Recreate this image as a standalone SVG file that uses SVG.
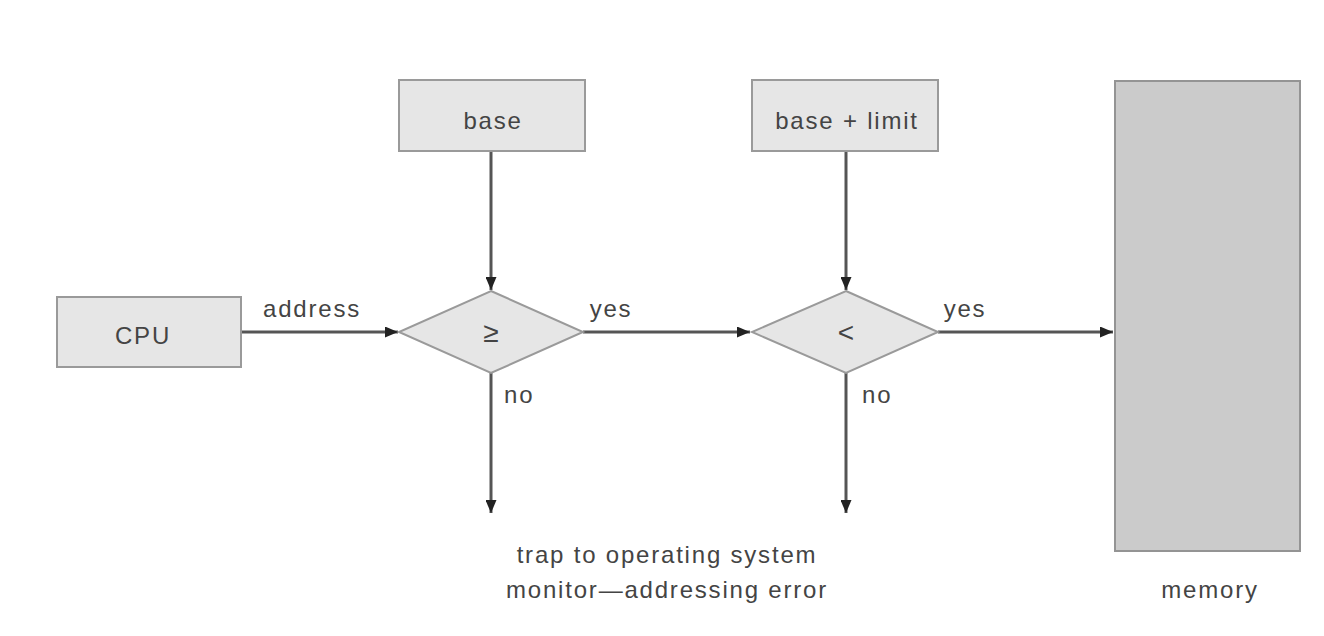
<svg xmlns="http://www.w3.org/2000/svg" width="1324" height="636" viewBox="0 0 1324 636">
  <style>
    .box { fill: #e6e6e6; stroke: #9a9a9a; stroke-width: 2; }
    .mem { fill: #cbcbcb; stroke: #949494; stroke-width: 2; }
    .dia { fill: #e6e6e6; stroke: #9a9a9a; stroke-width: 2; }
    .wire { stroke: #555; stroke-width: 3; fill: none; marker-end: url(#head); }
    text { font-family: "Liberation Sans", Arial, sans-serif; font-size: 24px; letter-spacing: 1.8px; fill: #444; }
    .c { text-anchor: middle; }
    .op { font-size: 28px; letter-spacing: 0; }
  </style>
  <defs>
    <marker id="head" viewBox="0 0 13 11" refX="13" refY="5.5" markerWidth="13" markerHeight="11" markerUnits="userSpaceOnUse" orient="auto">
      <path d="M0,0 L13,5.5 L0,11 Z" fill="#222"/>
    </marker>
  </defs>
  <rect width="1324" height="636" fill="#fff"/>

  <g id="connectors">
    <line class="wire" x1="241" y1="332" x2="398" y2="332"/>
    <line class="wire" x1="583" y1="332" x2="750" y2="332"/>
    <line class="wire" x1="938" y1="332" x2="1113" y2="332"/>
    <line class="wire" x1="491" y1="151" x2="491" y2="290"/>
    <line class="wire" x1="846" y1="151" x2="846" y2="290"/>
    <line class="wire" x1="491" y1="373" x2="491" y2="513"/>
    <line class="wire" x1="846" y1="373" x2="846" y2="513"/>
    <text x="312" y="317" class="c">address</text>
    <text x="611" y="317" class="c">yes</text>
    <text x="965" y="317" class="c">yes</text>
    <text x="504" y="403">no</text>
    <text x="862" y="403">no</text>
  </g>

  <g id="cpu">
    <rect class="box" x="57" y="297" width="184" height="70"/>
    <text x="143" y="344" class="c">CPU</text>
  </g>

  <g id="base">
    <rect class="box" x="399" y="80" width="186" height="71"/>
    <text x="493" y="129" class="c">base</text>
  </g>

  <g id="base-limit">
    <rect class="box" x="752" y="80" width="186" height="71"/>
    <text x="847" y="129" class="c">base + limit</text>
  </g>

  <g id="ge-check">
    <polygon class="dia" points="491,291 583,332 491,373 399,332"/>
    <text x="491" y="342" class="c op">≥</text>
  </g>

  <g id="lt-check">
    <polygon class="dia" points="846,291 938,332 846,373 752,332"/>
    <text x="846" y="342" class="c op">&lt;</text>
  </g>

  <g id="memory">
    <rect class="mem" x="1115" y="81" width="185" height="470"/>
    <text x="1210" y="598" class="c">memory</text>
  </g>

  <g id="trap">
    <text x="667" y="563" class="c">trap to operating system</text>
    <text x="667" y="598" class="c">monitor—addressing error</text>
  </g>
</svg>
